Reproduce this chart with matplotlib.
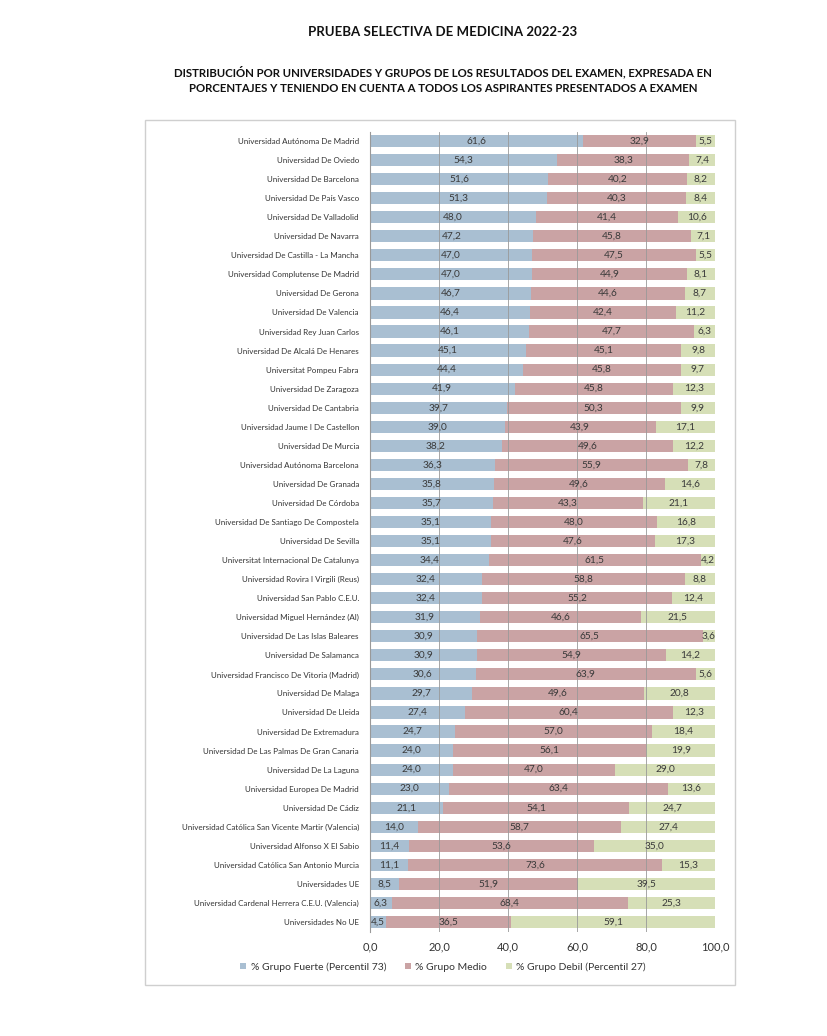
import numpy as np
import matplotlib
matplotlib.use("Agg")
import matplotlib.pyplot as plt
from matplotlib.patches import Rectangle

FONTSIZE = 7

plt.rcParams.update({
    "font.family": ["Lato", "DejaVu Sans"],
    "font.size": FONTSIZE,
    "axes.linewidth": 0.8,
    "xtick.labelsize": FONTSIZE + 1,
    "ytick.labelsize": FONTSIZE - 1.2,
    "legend.fontsize": FONTSIZE + 0.5})

# Data (top to bottom as in the reference)
universidades = [
    "Universidad Autónoma De Madrid",
    "Universidad De Oviedo",
    "Universidad De Barcelona",
    "Universidad De País Vasco",
    "Universidad De Valladolid",
    "Universidad De Navarra",
    "Universidad De Castilla - La Mancha",
    "Universidad Complutense De Madrid",
    "Universidad De Gerona",
    "Universidad De Valencia",
    "Universidad Rey Juan Carlos",
    "Universidad De Alcalá De Henares",
    "Universitat Pompeu Fabra",
    "Universidad De Zaragoza",
    "Universidad De Cantabria",
    "Universidad Jaume I De Castellon",
    "Universidad De Murcia",
    "Universidad Autónoma Barcelona",
    "Universidad De Granada",
    "Universidad De Córdoba",
    "Universidad De Santiago De Compostela",
    "Universidad De Sevilla",
    "Universitat Internacional De Catalunya",
    "Universidad Rovira I Virgili (Reus)",
    "Universidad San Pablo C.E.U.",
    "Universidad Miguel Hernández (Al)",
    "Universidad De Las Islas Baleares",
    "Universidad De Salamanca",
    "Universidad Francisco De Vitoria (Madrid)",
    "Universidad De Malaga",
    "Universidad De Lleida",
    "Universidad De Extremadura",
    "Universidad De Las Palmas De Gran Canaria",
    "Universidad De La Laguna",
    "Universidad Europea De Madrid",
    "Universidad De Cádiz",
    "Universidad Católica San Vicente Martir (Valencia)",
    "Universidad Alfonso X El Sabio",
    "Universidad Católica San Antonio Murcia",
    "Universidades UE",
    "Universidad Cardenal Herrera C.E.U. (Valencia)",
    "Universidades No UE",
]

grupo_fuerte = [61.6, 54.3, 51.6, 51.3, 48.0, 47.2, 47.0, 47.0, 46.7, 46.4,
                46.1, 45.1, 44.4, 41.9, 39.7, 39.0, 38.2, 36.3, 35.8, 35.7,
                35.1, 35.1, 34.4, 32.4, 32.4, 31.9, 30.9, 30.9, 30.6, 29.7,
                27.4, 24.7, 24.0, 24.0, 23.0, 21.1, 14.0, 11.4, 11.1, 8.5,
                6.3, 4.5]
grupo_medio = [32.9, 38.3, 40.2, 40.3, 41.4, 45.8, 47.5, 44.9, 44.6, 42.4,
               47.7, 45.1, 45.8, 45.8, 50.3, 43.9, 49.6, 55.9, 49.6, 43.3,
               48.0, 47.6, 61.5, 58.8, 55.2, 46.6, 65.5, 54.9, 63.9, 49.6,
               60.4, 57.0, 56.1, 47.0, 63.4, 54.1, 58.7, 53.6, 73.6, 51.9,
               68.4, 36.5]
grupo_debil = [5.5, 7.4, 8.2, 8.4, 10.6, 7.1, 5.5, 8.1, 8.7, 11.2,
               6.3, 9.8, 9.7, 12.3, 9.9, 17.1, 12.2, 7.8, 14.6, 21.1,
               16.8, 17.3, 4.2, 8.8, 12.4, 21.5, 3.6, 14.2, 5.6, 20.8,
               12.3, 18.4, 19.9, 29.0, 13.6, 24.7, 27.4, 35.0, 15.3, 39.5,
               25.3, 59.1]

series_labels = ["% Grupo Fuerte (Percentil 73)", "% Grupo Medio",
                 "% Grupo Debil (Percentil 27)"]
COLORS = ["#a9bfd2", "#caa3a4", "#d6dfb7"]
x_ticks = [0, 20, 40, 60, 80, 100]

W, H = 828, 1036


def fmt(v):
    return f"{v:.1f}".replace(".", ",")


fig = plt.figure(figsize=(W / 100, H / 100), dpi=100)

# Outer chart border
fig.patches.append(Rectangle((145 / W, 1 - 985 / H), 590 / W, 865 / H,
                             transform=fig.transFigure, fill=False,
                             edgecolor="#cfcfcf", linewidth=1.0))

ax = fig.add_axes([370 / W, 1 - 931.5 / H, 345 / W, 800 / H])

y = np.arange(len(universidades))
left = np.zeros(len(universidades))
for vals, color, lab in zip([grupo_fuerte, grupo_medio, grupo_debil], COLORS, series_labels):
    vals = np.asarray(vals)
    ax.barh(y, vals, left=left, height=0.64, color=color, label=lab, zorder=1)
    for yi, (l, v) in enumerate(zip(left, vals)):
        ax.text(l + v / 2, yi, fmt(v), ha="center", va="center",
                fontsize=FONTSIZE + 0.3, color="#3a3a3a", zorder=3)
    left = left + vals

# Gridlines drawn over the bars, as in the reference
for xv in x_ticks[1:-1]:
    ax.axvline(xv, color="#999999", linewidth=0.6, zorder=2)

ax.set_xlim(0, 100)
ax.set_ylim(len(universidades) - 0.5, -0.5)
ax.set_yticks(y)
ax.set_yticklabels(universidades, color="#333333")
ax.set_xticks(x_ticks)
ax.set_xticklabels([fmt(v) for v in x_ticks], color="#333333")
ax.tick_params(axis="both", length=0)
ax.tick_params(axis="y", pad=8)
ax.tick_params(axis="x", pad=7)
for side in ["top", "right", "bottom"]:
    ax.spines[side].set_visible(False)
ax.spines["left"].set_color("#999999")
ax.spines["left"].set_linewidth(0.8)

fig.legend(loc="center", bbox_to_anchor=(443 / W, 1 - 967 / H), ncol=3,
           frameon=False, handlelength=0.6, handleheight=0.6,
           handletextpad=0.4, columnspacing=1.8, labelcolor="#333333")

fig.text(443 / W, 1 - 32 / H, "PRUEBA SELECTIVA DE MEDICINA 2022-23",
         ha="center", va="center", fontsize=9.5, fontweight="bold", color="#111111")
fig.text(443 / W, 1 - 80 / H,
         "DISTRIBUCIÓN POR UNIVERSIDADES Y GRUPOS DE LOS RESULTADOS DEL EXAMEN, EXPRESADA EN\n"
         "PORCENTAJES Y TENIENDO EN CUENTA A TODOS LOS ASPIRANTES PRESENTADOS A EXAMEN",
         ha="center", va="center", fontsize=8.2, fontweight="bold", color="#111111",
         linespacing=1.45)

fig.savefig("out.png", dpi=100)
